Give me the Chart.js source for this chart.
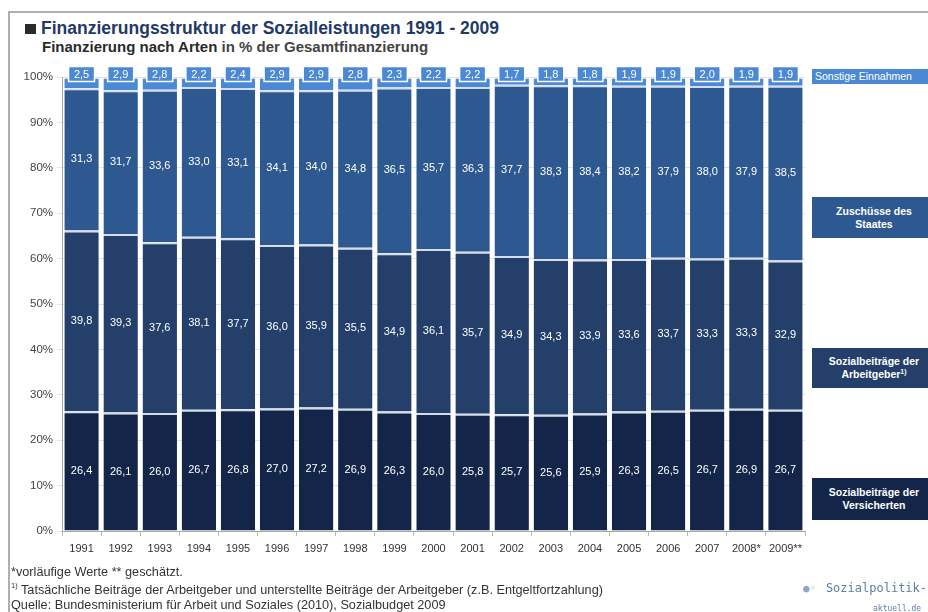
<!DOCTYPE html>
<html>
<head>
<meta charset="utf-8">
<script src="https://cdn.jsdelivr.net/npm/chart.js@4"></script>
<style>
  body { margin: 0; background: #fff; font-family: "Liberation Sans", Arial, sans-serif; }
  #wrap { position: relative; width: 928px; height: 612px; overflow: hidden; }
  #chart { position: absolute; left: 0; top: 0; }
  .frame { position: absolute; left: 8px; top: 11px; width: 940px; height: 620px;
           border-top: 2px solid #a9b0b8; border-left: 2px solid #a9b0b8; }
  .title { position: absolute; left: 25px; top: 18px; font-size: 17.5px; font-weight: bold; color: #1f3a68; white-space: nowrap; }
  .title .sq { display: inline-block; width: 11px; height: 10px; background: #2b2b2b; margin-right: 5px; }
  .sub { position: absolute; left: 42px; top: 38px; font-size: 15px; font-weight: bold; color: #2a2a2a; white-space: nowrap; }
  .legbox { position: absolute; left: 812px; width: 124px; color: #fff; font-size: 10.5px; font-weight: bold;
            text-align: center; display: flex; align-items: center; justify-content: center; line-height: 13px; }
  .legbox sup { font-size: 7px; line-height: 0; vertical-align: 4px; }
  .foot { position: absolute; left: 11px; font-size: 13.5px; color: #333; white-space: nowrap;
          transform: scaleX(0.94); transform-origin: left top; }
  .logo { position: absolute; left: 803px; top: 577px; font-family: "DejaVu Sans Mono", monospace; color: #5b7ea8; }
</style>
</head>
<body>
<div id="wrap">
  <div class="frame"></div>
  <div class="title"><span class="sq"></span>Finanzierungsstruktur der Sozialleistungen 1991 - 2009</div>
  <div class="sub">Finanzierung nach Arten <span style="color:#444">in % der Gesamtfinanzierung</span></div>
  <canvas id="chart" width="928" height="612"></canvas>
  <div id="legend"></div>
  <div class="foot" style="top:564px">*vorläufige Werte ** geschätzt.</div>
  <div class="foot" style="top:581px"><sup style="font-size:8px">1)</sup> Tatsächliche Beiträge der Arbeitgeber und unterstellte Beiträge der Arbeitgeber (z.B. Entgeltfortzahlung)</div>
  <div class="foot" style="top:597px">Quelle: Bundesministerium für Arbeit und Soziales (2010), Sozialbudget 2009</div>
  <div class="logo"><span style="font-size:11px;color:#8aa6c8">●◦</span> <span style="font-size:12px">Sozialpolitik-</span><br><span style="font-size:8px;margin-left:70px">aktuell.de</span></div>
</div>
<script>
const years = ['1991', '1992', '1993', '1994', '1995', '1996', '1997', '1998', '1999', '2000',
  '2001', '2002', '2003', '2004', '2005', '2006', '2007', '2008*', '2009**'];
const versicherten = [26.4, 26.1, 26.0, 26.7, 26.8, 27.0, 27.2, 26.9, 26.3, 26.0, 25.8, 25.7, 25.6, 25.9, 26.3, 26.5, 26.7, 26.9, 26.7];
const arbeitgeber = [39.8, 39.3, 37.6, 38.1, 37.7, 36.0, 35.9, 35.5, 34.9, 36.1, 35.7, 34.9, 34.3, 33.9, 33.6, 33.7, 33.3, 33.3, 32.9];
const staat = [31.3, 31.7, 33.6, 33.0, 33.1, 34.1, 34.0, 34.8, 36.5, 35.7, 36.3, 37.7, 38.3, 38.4, 38.2, 37.9, 38.0, 37.9, 38.5];
const sonstige = [2.5, 2.9, 2.8, 2.2, 2.4, 2.9, 2.9, 2.8, 2.3, 2.2, 2.2, 1.7, 1.8, 1.8, 1.9, 1.9, 2.0, 1.9, 1.9];
const yTicks = [0, 10, 20, 30, 40, 50, 60, 70, 80, 90, 100];

const seriesNames = ['Sozialbeiträge der Versicherten', 'Sozialbeiträge der Arbeitgeber', 'Zuschüsse des Staates', 'Sonstige Einnahmen'];
const colors = ['#13264a', '#233f6a', '#2e5990', '#4c89d4'];

// legend boxes on the right
const legendPos = [
  { top: 478, h: 42, html: 'Sozialbeiträge der<br>Versicherten' },
  { top: 348, h: 40, html: 'Sozialbeiträge der<br>Arbeitgeber<sup>1)</sup>' },
  { top: 197, h: 41, html: 'Zuschüsse des<br>Staates' },
  { top: 69, h: 15, html: 'Sonstige Einnahmen' }
];
const legendDiv = document.getElementById('legend');
legendPos.forEach((p, i) => {
  const d = document.createElement('div');
  d.className = 'legbox';
  d.style.top = p.top + 'px';
  d.style.height = p.h + 'px';
  d.style.background = colors[i];
  if (i == 3) { d.style.fontWeight = 'normal'; d.style.justifyContent = 'flex-start'; d.style.paddingLeft = '3px'; }
  d.innerHTML = '<span>' + p.html + '</span>';
  legendDiv.appendChild(d);
});

function fmt(v) { return v.toFixed(1).replace('.', ','); }

const labelPlugin = {
  id: 'barLabels',
  afterDatasetsDraw(chart) {
    const ctx = chart.ctx;
    const yTop = chart.scales.y.getPixelForValue(100);
    ctx.save();
    ctx.textAlign = 'center';
    ctx.textBaseline = 'middle';
    ctx.font = '11px "Liberation Sans", Arial, sans-serif';
    chart.data.datasets.forEach((ds, i) => {
      const meta = chart.getDatasetMeta(i);
      meta.data.forEach((bar, j) => {
        const p = bar.getProps(['x', 'y', 'base'], true);
        const txt = fmt(ds.data[j]);
        if (i < 3) {
          ctx.fillStyle = '#ffffff';
          ctx.fillText(txt, p.x, (p.y + p.base) / 2);
        } else {
          const w = 26, h = 15, cy = yTop - 3;
          ctx.fillStyle = colors[3];
          ctx.fillRect(p.x - w / 2, cy - h / 2, w, h);
          ctx.strokeStyle = '#ffffff';
          ctx.lineWidth = 1.5;
          ctx.strokeRect(p.x - w / 2, cy - h / 2, w, h);
          ctx.fillStyle = '#ffffff';
          ctx.fillText(txt, p.x, cy + 1);
        }
      });
    });
    ctx.restore();
  }
};

const datasets = [versicherten, arbeitgeber, staat, sonstige].map((arr, i) => ({
  label: seriesNames[i],
  data: arr,
  backgroundColor: colors[i],
  borderColor: '#d5dde8',
  borderWidth: { top: 2, bottom: 0, left: 0, right: 0 },
  borderSkipped: false,
  categoryPercentage: 1.0,
  barPercentage: 0.88
}));

new Chart(document.getElementById('chart'), {
  type: 'bar',
  data: { labels: years, datasets: datasets },
  options: {
    responsive: false,
    animation: false,
    layout: { padding: { left: 10, top: 77, right: 123, bottom: 51 } },
    plugins: { legend: { display: false }, tooltip: { enabled: false } },
    scales: {
      x: {
        stacked: true,
        grid: { display: true, drawOnChartArea: false, offset: true, tickLength: 5, color: '#b8b8b8' },
        border: { color: '#a8a8a8' },
        ticks: { color: '#333', font: { size: 11 }, padding: 6, maxRotation: 0, minRotation: 0, autoSkip: false },
        afterFit(s) { s.height = 30; }
      },
      y: {
        stacked: true,
        min: 0,
        max: 100,
        afterBuildTicks(s) { s.ticks = yTicks.map(v => ({ value: v })); },
        grid: { color: '#e3e3e3', tickLength: 5 },
        border: { color: '#a8a8a8' },
        ticks: { color: '#444', font: { size: 11.5 }, callback: v => v + '%', padding: 4 },
        afterFit(s) { s.width = 52; }
      }
    }
  },
  plugins: [labelPlugin]
});
</script>
</body>
</html>
